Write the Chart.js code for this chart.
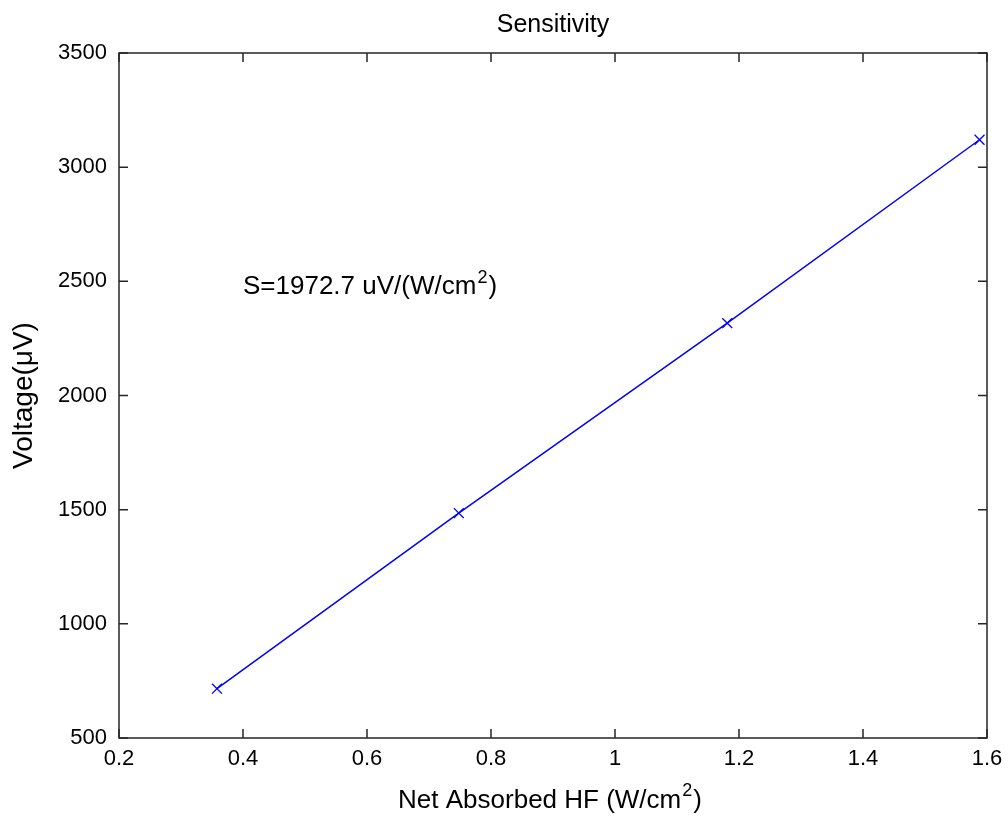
<!DOCTYPE html>
<html>
<head>
<meta charset="utf-8">
<script src="https://cdn.jsdelivr.net/npm/chart.js@4"></script>
<style>
  html, body { margin: 0; padding: 0; background: #fff; }
  #wrap { width: 1008px; height: 821px; }
</style>
</head>
<body>
<div id="wrap"><canvas id="myChart" width="1008" height="821"></canvas></div>
<script>
// data
var hfValues = [0.358, 0.748, 1.181, 1.588];
var voltageValues = [716, 1485, 2317, 3120];
var xTicks = [0.2, 0.4, 0.6, 0.8, 1, 1.2, 1.4, 1.6];
var yTicks = [500, 1000, 1500, 2000, 2500, 3000, 3500];
var noteText = ["S=1972.7 uV/(W/cm", "2", ")"];
var xTitle = ["Net Absorbed HF (W/cm", "2", ")"];
var notePos = [0.4, 2500];

var fontName = "'Liberation Sans', Arial, sans-serif";

// text with a raised "2" in the middle
function supText(c, parts, x, y, size, align) {
	c.font = size + 'px ' + fontName;
	var w0 = c.measureText(parts[0]).width;
	var w2 = c.measureText(parts[2]).width;
	c.font = Math.round(size * 0.68) + 'px ' + fontName;
	var w1 = c.measureText(parts[1]).width;
	var total = w0 + w1 + w2 + 2;
	var sx = align === 'center' ? x - total / 2 : x;
	c.textAlign = 'left';
	c.textBaseline = 'alphabetic';
	c.font = size + 'px ' + fontName;
	c.fillText(parts[0], sx, y);
	c.font = Math.round(size * 0.68) + 'px ' + fontName;
	c.fillText(parts[1], sx + w0 + 1, y - size * 0.45);
	c.font = size + 'px ' + fontName;
	c.fillText(parts[2], sx + w0 + w1 + 2, y);
}

// box round the axes, inward ticks, title, x label and the S= note
var matlabBox = {
	id: 'matlabBox',
	afterDraw: function(chart) {
		var c = chart.ctx;
		var a = chart.chartArea;
		var xs = chart.scales.x, ys = chart.scales.y;
		c.save();
		c.strokeStyle = '#262626';
		c.lineWidth = 1.5;
		c.strokeRect(a.left, a.top, a.right - a.left, a.bottom - a.top);
		c.beginPath();
		xTicks.forEach(function(t) {
			var px = xs.getPixelForValue(t);
			c.moveTo(px, a.bottom); c.lineTo(px, a.bottom - 9);
			c.moveTo(px, a.top); c.lineTo(px, a.top + 9);
		});
		yTicks.forEach(function(t) {
			var py = ys.getPixelForValue(t);
			c.moveTo(a.left, py); c.lineTo(a.left + 9, py);
			c.moveTo(a.right, py); c.lineTo(a.right - 9, py);
		});
		c.stroke();

		c.fillStyle = '#000';
		c.font = '25px ' + fontName;
		c.textAlign = 'center';
		c.textBaseline = 'alphabetic';
		c.fillText('Sensitivity', (a.left + a.right) / 2, 32);

		supText(c, xTitle, (a.left + a.right) / 2 - 3, 808, 26, 'center');

		var nx = xs.getPixelForValue(notePos[0]);
		var ny = ys.getPixelForValue(notePos[1]);
		supText(c, noteText, nx, ny + 13, 26, 'left');
		c.restore();
	}
};

var ctx = document.getElementById('myChart');
var myChart = new Chart(ctx, {
	type: 'line',
	data: {
		datasets: [{
			data: hfValues.map(function(v, i) { return {x: v, y: voltageValues[i]}; }),
			borderColor: '#0000ff',
			backgroundColor: '#0000ff',
			borderWidth: 1.5,
			pointStyle: 'crossRot',
			pointRadius: 7,
			pointBorderWidth: 1.3,
			pointBorderColor: '#0000ff',
			fill: false,
			tension: 0
		}]
	},
	options: {
		responsive: false,
		animation: false,
		layout: { padding: { top: 53, right: 21, left: 0, bottom: 0 } },
		plugins: {
			legend: { display: false },
			tooltip: { enabled: false }
		},
		scales: {
			x: {
				type: 'linear',
				min: 0.2,
				max: 1.6,
				afterBuildTicks: function(s) { s.ticks = xTicks.map(function(v) { return {value: v}; }); },
				afterFit: function(s) { s.height = 83; s.paddingRight = 0; s.paddingLeft = 0; },
				grid: { display: false, drawTicks: false },
				border: { display: false },
				ticks: {
					padding: 8,
					color: '#000',
					font: { size: 22, family: fontName },
					maxRotation: 0,
					callback: function(v) { return String(+v.toFixed(1)); }
				}
			},
			y: {
				type: 'linear',
				min: 500,
				max: 3500,
				afterBuildTicks: function(s) { s.ticks = yTicks.map(function(v) { return {value: v}; }); },
				afterFit: function(s) { s.width = 119; s.paddingTop = 0; s.paddingBottom = 0; },
				grid: { display: false, drawTicks: false },
				border: { display: false },
				ticks: {
					padding: 12,
					color: '#000',
					font: { size: 22, family: fontName },
					callback: function(v) { return String(v); }
				},
				title: {
					display: true,
					text: 'Voltage(\u03bcV)',
					color: '#000',
					font: { size: 28, family: fontName },
					padding: { top: 7, bottom: 0 }
				}
			}
		}
	},
	plugins: [matlabBox]
});
</script>
</body>
</html>
